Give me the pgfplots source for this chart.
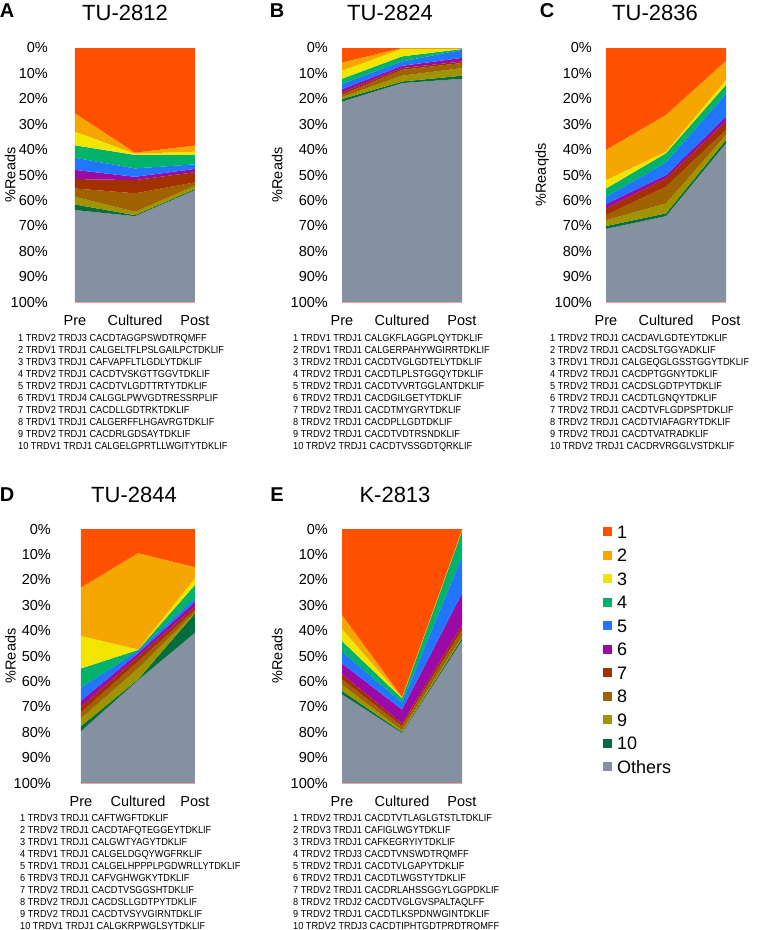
\documentclass[border=0pt]{standalone}
\usepackage{fontspec}
\setmainfont{Liberation Sans}
\usepackage{pgfplots}
\usepackage{pgfplotstable}
\pgfplotsset{compat=1.18}

\definecolor{c1}{HTML}{FF5000}
\definecolor{c2}{HTML}{F5A700}
\definecolor{c3}{HTML}{F2E600}
\definecolor{c4}{HTML}{00B26B}
\definecolor{c5}{HTML}{2175FF}
\definecolor{c6}{HTML}{9C0AA6}
\definecolor{c7}{HTML}{A33100}
\definecolor{c8}{HTML}{9E6300}
\definecolor{c9}{HTML}{9E9400}
\definecolor{c10}{HTML}{006E3E}
\definecolor{cO}{HTML}{8591A0}
\definecolor{cline}{HTML}{F2A0A0}

% percent reads per clone, columns 1..10 and others
\pgfplotstableread{
x s1 s2 s3 s4 s5 s6 s7 s8 s9 s10 so
0 25.7 7.2 5.4 4.9 4.8 3.6 3.7 3.3 3.0 2.2 36.2
1 41.2 0.4 0.5 5.3 3.3 1.3 5.2 7.3 1.3 0.4 33.8
2 38.4 2.4 1.3 3.7 1.8 1.3 4.0 1.3 1.3 0.4 44.1
}\tabA
\pgfplotstableread{
x s1 s2 s3 s4 s5 s6 s7 s8 s9 s10 so
0 5.7 3.2 3.2 2.0 2.1 1.3 0.9 0.9 0.8 1.0 78.9
1 0.0 0.3 3.0 2.0 1.7 0.9 0.7 2.3 2.3 0.6 86.2
2 0.1 0.2 0.1 0.3 3.2 1.4 0.6 2.0 3.0 1.2 87.9
}\tabB
\pgfplotstableread{
x s1 s2 s3 s4 s5 s6 s7 s8 s9 s10 so
0 40.1 11.9 3.3 3.3 2.8 1.8 2.6 2.0 2.3 1.1 28.8
1 26.3 14.5 0.6 3.6 5.0 1.3 3.3 6.6 3.9 1.1 33.8
2 5.0 7.5 2.0 3.5 9.0 1.9 3.3 2.0 2.0 1.3 62.5
}\tabC
\pgfplotstableread{
x s1 s2 s3 s4 s5 s6 s7 s8 s9 s10 so
0 23.0 19.1 12.8 7.5 5.2 2.4 2.2 2.4 3.0 2.0 20.4
1 9.5 37.9 0.2 0.3 1.0 1.4 1.9 2.7 4.3 0.3 40.5
2 15.0 4.3 2.7 5.2 1.4 1.9 1.3 1.0 0.4 7.6 59.2
}\tabD
\pgfplotstableread{
x s1 s2 s3 s4 s5 s6 s7 s8 s9 s10 so
0 33.8 5.5 4.8 4.2 4.6 4.2 2.1 2.2 2.3 1.4 34.9
1 66.1 0.2 0.3 1.7 2.8 5.5 1.0 1.6 0.7 0.4 19.7
2 0.3 0.2 0.3 10.0 14.5 12.5 1.9 2.7 0.6 0.9 56.1
}\tabE

\newcommand{\stackareas}[1]{%
  \pgfplotsinvokeforeach{1,...,10}{%
    \addplot[fill=c##1, draw=none] table[x=x, y=s##1]{#1} \closedcycle;}
  \addplot[fill=cO, draw=none] table[x=x, y=so]{#1} \closedcycle;
}

\pgfplotsset{
  panel/.style={
    scale only axis, width=120pt, height=254pt,
    anchor=north west,
    y dir=reverse, ymin=0, ymax=100, xmin=0, xmax=2,
    stack plots=y,
    axis line style={draw=none},
    tick style={draw=none},
    xtick={0,1,2}, xticklabels={Pre,Cultured,Post},
    ytick={0,10,...,100},
    yticklabel={\pgfmathprintnumber{\tick}\%},
    /pgf/number format/assume math mode=true,
    tick label style={font=\fontsize{14.5}{16}\selectfont},
    xticklabel style={inner sep=0pt, anchor=north, yshift=-13pt},
    yticklabel style={inner sep=0pt, anchor=east, xshift=-14pt},
    ylabel={\%Reads},
    ylabel pos/.style={every axis y label/.style={at={(axis description cs:##1,0.5)},
      rotate=90, anchor=center, font=\fontsize{14.5}{16}\selectfont}},
    after end axis/.code={\draw[cline, line width=0.8pt] (axis cs:0,100) -- (axis cs:2,100);},
  },
}
\tikzset{
  clist/.style={anchor=north west, inner sep=0pt, align=left,
    font=\fontsize{10.2}{12}\selectfont, xscale=0.9, transform shape},
}

\begin{document}
\begin{tikzpicture}
\useasboundingbox (0,0) rectangle (764pt,-930pt);

% A
\begin{axis}[panel, at={(75pt,-48pt)}, ylabel pos=-0.54,
  yticklabel style={xshift=-13pt}]
  \stackareas{\tabA}
\end{axis}
% B
\begin{axis}[panel, at={(342pt,-48pt)}, ylabel pos=-0.54]
  \stackareas{\tabB}
\end{axis}
% C
\begin{axis}[panel, at={(606pt,-48pt)}, ylabel pos=-0.533, ylabel={\%Reaqds}]
  \stackareas{\tabC}
\end{axis}
% D
\begin{axis}[panel, at={(81pt,-529pt)}, width=114pt, ylabel pos=-0.62,
  yticklabel style={xshift=-16pt}]
  \stackareas{\tabD}
\end{axis}
% E
\begin{axis}[panel, at={(342pt,-529pt)}, ylabel pos=-0.54,
  legend entries={1,2,3,4,5,6,7,8,9,10,Others},
  legend cell align=left,
  legend image code/.code={\path[#1, draw=none] (0pt,-4.5pt) rectangle (9pt,4.5pt);},
  legend style={draw=none, fill=none, inner sep=0pt, outer sep=0pt,
    at={(axis description cs:2.175,1.014)}, anchor=north west,
    font=\fontsize{18}{20}\selectfont,
    nodes={inner sep=0pt, text height=13pt, text depth=0pt},
    row sep=10.5pt, column sep=5pt}]
  \stackareas{\tabE}
\end{axis}

% titles and panel letters
\node[font=\fontsize{22}{24}\selectfont] at (125pt,-13pt) {TU-2812};
\node[font=\fontsize{22}{24}\selectfont] at (390pt,-13pt) {TU-2824};
\node[font=\fontsize{22}{24}\selectfont] at (655pt,-13pt) {TU-2836};
\node[font=\fontsize{22}{24}\selectfont] at (134pt,-495pt) {TU-2844};
\node[font=\fontsize{22}{24}\selectfont] at (395pt,-495pt) {K-2813};
\node[font=\bfseries\fontsize{20}{22}\selectfont] at (7pt,-11pt) {A};
\node[font=\bfseries\fontsize{20}{22}\selectfont] at (277pt,-11pt) {B};
\node[font=\bfseries\fontsize{20}{22}\selectfont] at (547pt,-11pt) {C};
\node[font=\bfseries\fontsize{20}{22}\selectfont] at (7pt,-495pt) {D};
\node[font=\bfseries\fontsize{20}{22}\selectfont] at (277pt,-495pt) {E};

% clone lists
\node[clist] at (18pt,-334pt) {%
1 TRDV2 TRDJ3 CACDTAGGPSWDTRQMFF\\
2 TRDV1 TRDJ1 CALGELTFLPSLGAILPCTDKLIF\\
3 TRDV3 TRDJ1 CAFVAPFLTLGDLYTDKLIF\\
4 TRDV2 TRDJ1 CACDTVSKGTTGGVTDKLIF\\
5 TRDV2 TRDJ1 CACDTVLGDTTRTYTDKLIF\\
6 TRDV1 TRDJ4 CALGGLPWVGDTRESSRPLIF\\
7 TRDV2 TRDJ1 CACDLLGDTRKTDKLIF\\
8 TRDV1 TRDJ1 CALGERFFLHGAVRGTDKLIF\\
9 TRDV2 TRDJ1 CACDRLGDSAYTDKLIF\\
10 TRDV1 TRDJ1 CALGELGPRTLLWGITYTDKLIF};
\node[clist] at (293pt,-334pt) {%
1 TRDV1 TRDJ1 CALGKFLAGGPLQYTDKLIF\\
2 TRDV1 TRDJ1 CALGERPAHYWGIRRTDKLIF\\
3 TRDV2 TRDJ1 CACDTVGLGDTELYTDKLIF\\
4 TRDV2 TRDJ1 CACDTLPLSTGGQYTDKLIF\\
5 TRDV2 TRDJ1 CACDTVVRTGGLANTDKLIF\\
6 TRDV2 TRDJ1 CACDGILGETYTDKLIF\\
7 TRDV2 TRDJ1 CACDTMYGRYTDKLIF\\
8 TRDV2 TRDJ1 CACDPLLGDTDKLIF\\
9 TRDV2 TRDJ1 CACDTVDTRSNDKLIF\\
10 TRDV2 TRDJ1 CACDTVSSGDTQRKLIF};
\node[clist] at (550pt,-334pt) {%
1 TRDV2 TRDJ1 CACDAVLGDTEYTDKLIF\\
2 TRDV2 TRDJ1 CACDSLTGGYADKLIF\\
3 TRDV1 TRDJ1 CALGEQGLGSSTGGYTDKLIF\\
4 TRDV2 TRDJ1 CACDPTGGNYTDKLIF\\
5 TRDV2 TRDJ1 CACDSLGDTPYTDKLIF\\
6 TRDV2 TRDJ1 CACDTLGNQYTDKLIF\\
7 TRDV2 TRDJ1 CACDTVFLGDPSPTDKLIF\\
8 TRDV2 TRDJ1 CACDTVIAFAGRYTDKLIF\\
9 TRDV2 TRDJ1 CACDTVATRADKLIF\\
10 TRDV2 TRDJ1 CACDRVRGGLVSTDKLIF};
\node[clist] at (20pt,-814pt) {%
1 TRDV3 TRDJ1 CAFTWGFTDKLIF\\
2 TRDV2 TRDJ1 CACDTAFQTEGGEYTDKLIF\\
3 TRDV1 TRDJ1 CALGWTYAGYTDKLIF\\
4 TRDV1 TRDJ1 CALGELDGQYWGFRKLIF\\
5 TRDV1 TRDJ1 CALGELHPPPLPGDWRLLYTDKLIF\\
6 TRDV3 TRDJ1 CAFVGHWGKYTDKLIF\\
7 TRDV2 TRDJ1 CACDTVSGGSHTDKLIF\\
8 TRDV2 TRDJ1 CACDSLLGDTPYTDKLIF\\
9 TRDV2 TRDJ1 CACDTVSYVGIRNTDKLIF\\
10 TRDV1 TRDJ1 CALGKRPWGLSYTDKLIF};
\node[clist] at (293pt,-814pt) {%
1 TRDV2 TRDJ1 CACDTVTLAGLGTSTLTDKLIF\\
2 TRDV3 TRDJ1 CAFIGLWGYTDKLIF\\
3 TRDV3 TRDJ1 CAFKEGRYIYTDKLIF\\
4 TRDV2 TRDJ3 CACDTVNSWDTRQMFF\\
5 TRDV2 TRDJ1 CACDTVLGAPYTDKLIF\\
6 TRDV2 TRDJ1 CACDTLWGSTYTDKLIF\\
7 TRDV2 TRDJ1 CACDRLAHSSGGYLGGPDKLIF\\
8 TRDV2 TRDJ2 CACDTVGLGVSPALTAQLFF\\
9 TRDV2 TRDJ1 CACDTLKSPDNWGINTDKLIF\\
10 TRDV2 TRDJ3 CACDTIPHTGDTPRDTRQMFF};
\end{tikzpicture}
\end{document}
